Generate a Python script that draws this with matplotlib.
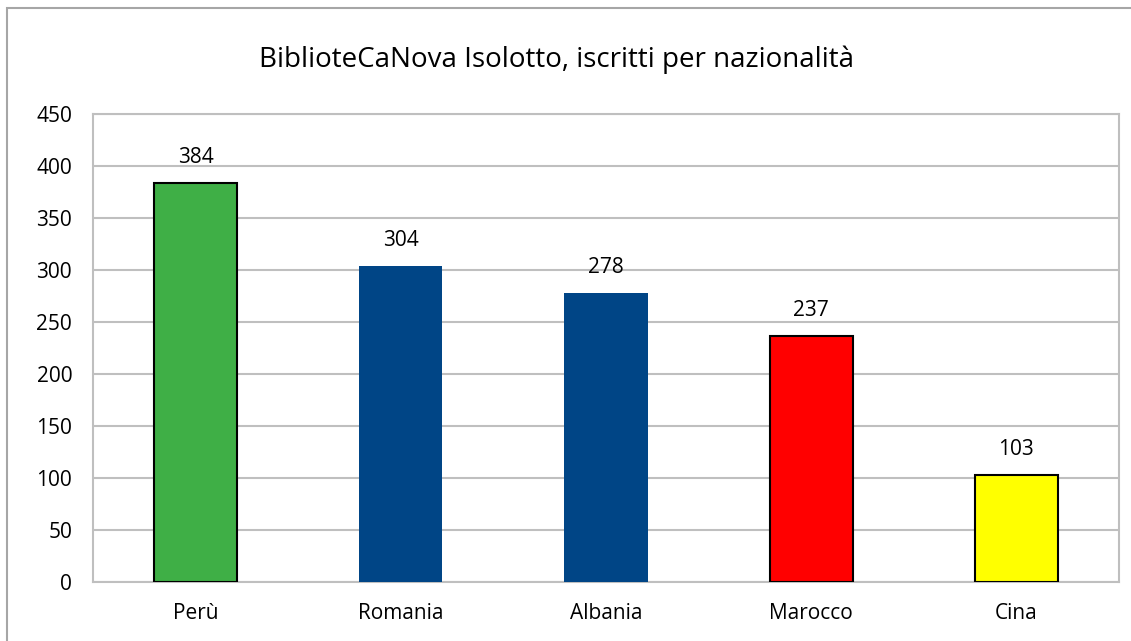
import matplotlib.pyplot as plt
from matplotlib.patches import Rectangle

plt.rcParams['font.family'] = ['Open Sans', 'DejaVu Sans']

# data
paesi = ['Perù', 'Romania', 'Albania', 'Marocco', 'Cina']
iscritti = [384, 304, 278, 237, 103]
colori = ['#3FAF46', '#004586', '#004586', '#FF0000', '#FFFF00']
bordi = ['black', 'none', 'none', 'black', 'black']
yticks = [0, 50, 100, 150, 200, 250, 300, 350, 400, 450]

fig = plt.figure(figsize=(11.31, 6.41), dpi=100)
ax = fig.add_axes([93 / 1131, 1 - 582 / 641, (1119 - 93) / 1131, (582 - 114) / 641])

# grid
grigio = '#BFBFBF'
ax.set_axisbelow(True)
ax.yaxis.grid(True, color=grigio, linewidth=1.5)
for s in ax.spines.values():
    s.set_color(grigio)
    s.set_linewidth(1.5)

x = range(len(paesi))
bars = ax.bar(x, iscritti, width=0.405, color=colori, zorder=3)
for b, ec in zip(bars, bordi):
    if ec != 'none':
        b.set_edgecolor(ec)
        b.set_linewidth(1.5)

# value labels
for xi, v in zip(x, iscritti):
    ax.annotate(str(v), (xi, v), xytext=(0, 18), textcoords='offset points',
                ha='center', va='center', fontsize=15)

ax.set_xlim(-0.5, len(paesi) - 0.5)
ax.set_ylim(0, 450)
ax.set_yticks(yticks)
ax.set_xticks(list(x))
ax.set_xticklabels(paesi)
ax.tick_params(axis='both', length=0, labelsize=15)
ax.tick_params(axis='y', pad=15)
ax.tick_params(axis='x', pad=15)

fig.text(0.492, 1 - 60 / 641, 'BiblioteCaNova Isolotto, iscritti per nazionalità',
         ha='center', va='center', fontsize=20)

# outer chart frame
fig.patches.append(Rectangle((7 / 1131, -0.1), 1.2, 1 - 8 / 641 + 0.1,
                             transform=fig.transFigure, fill=False,
                             edgecolor='#A6A6A6', linewidth=1.5))

fig.savefig('out.png', dpi=100)
